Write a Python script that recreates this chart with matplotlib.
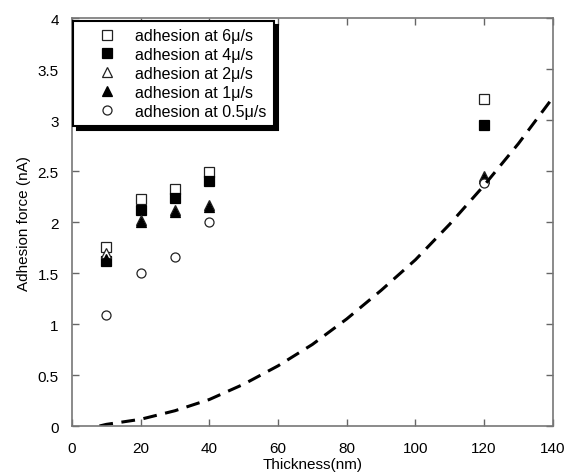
import matplotlib
matplotlib.use("Agg")
import matplotlib.pyplot as plt

plt.rcParams['font.family'] = ['Liberation Sans', 'DejaVu Sans']

thickness = [10, 20, 30, 40, 120]
adh_6 = [1.76, 2.23, 2.32, 2.49, 3.21]
adh_4 = [1.62, 2.12, 2.24, 2.40, 2.95]
adh_2 = [1.70, 2.02, 2.12, 2.17, 2.45]
adh_1 = [1.64, 2.00, 2.10, 2.15, 2.43]
adh_05 = [1.09, 1.50, 1.66, 2.00, 2.38]

# dashed curve
curve_x = [8, 10, 20, 30, 40, 50, 60, 70, 80, 90, 100, 110, 120, 130, 140]
curve_y = [0.0, 0.016, 0.066, 0.15, 0.26, 0.41, 0.59, 0.80, 1.05, 1.33, 1.63, 1.98, 2.36, 2.77, 3.22]

fig = plt.figure(figsize=(5.69, 4.77), dpi=100)
ax = fig.add_axes([0.1265, 0.1048, 0.845, 0.855])

ms = 6.5
mec = '#222222'
ax.plot(thickness, adh_6, 's', ms=ms, mfc='white', mec=mec, mew=0.9, label='adhesion at 6\u03bc/s')
ax.plot(thickness, adh_4, 's', ms=ms, mfc='black', mec='black', mew=0.9, label='adhesion at 4\u03bc/s')
ax.plot(thickness, adh_2, '^', ms=ms, mfc='white', mec=mec, mew=0.9, label='adhesion at 2\u03bc/s')
ax.plot(thickness, adh_1, '^', ms=ms, mfc='black', mec='black', mew=0.9, label='adhesion at 1\u03bc/s')
ax.plot(thickness, adh_05, 'o', ms=ms, mfc='white', mec=mec, mew=0.9, label='adhesion at 0.5\u03bc/s')
ax.plot(curve_x, curve_y, color='black', lw=2.2, linestyle=(0, (4.5, 2.8)))

ax.set_xlim(0, 140)
ax.set_ylim(0, 4)
ax.set_xticks(range(0, 141, 20))
ax.set_yticks([0, 0.5, 1, 1.5, 2, 2.5, 3, 3.5, 4])
ax.set_yticklabels(['0', '0.5', '1', '1.5', '2', '2.5', '3', '3.5', '4'])
ax.tick_params(direction='in', length=5, width=1, colors='#666666', labelcolor='black',
               labelsize=11, top=True, right=True)
ax.tick_params(axis='x', pad=11)
ax.tick_params(axis='y', pad=9.5)
for s in ax.spines.values():
    s.set_color('#777777')
    s.set_linewidth(1.2)

ax.set_xlabel('Thickness(nm)', fontsize=11, labelpad=1.5)
ax.set_ylabel('Adhesion force (nA)', fontsize=11, labelpad=5)

leg = ax.legend(loc='upper left', bbox_to_anchor=(0.002, 0.993), borderaxespad=0,
                fontsize=11.5, frameon=True, fancybox=False, edgecolor='black',
                handlelength=3.35, handletextpad=0.1, borderpad=0.45, labelspacing=0.24,
                shadow={'ox': 3, 'oy': -3, 'facecolor': 'black', 'edgecolor': 'black', 'alpha': 1})
leg.get_frame().set_linewidth(1.5)
leg.get_frame().set_alpha(1)

fig.savefig('out.png', dpi=100)
